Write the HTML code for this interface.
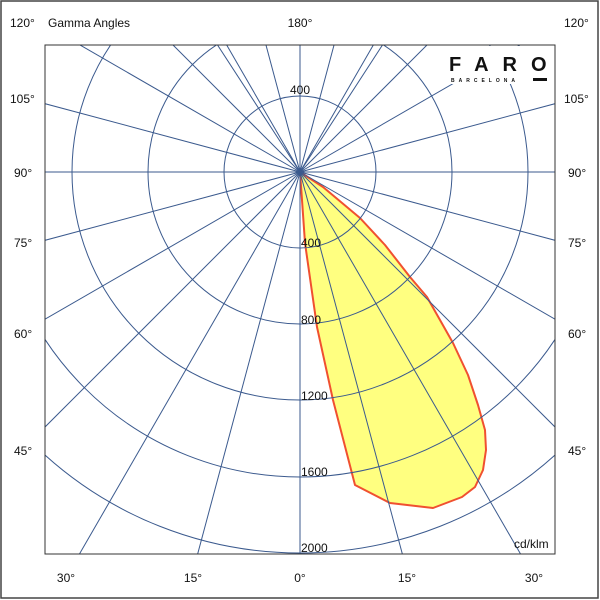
<!DOCTYPE html>
<html><head><style>
html,body{margin:0;padding:0;background:#fff;overflow:hidden;width:600px;height:600px;}
svg{display:block;overflow:hidden;}
svg text{font-family:"Liberation Sans",Arial,sans-serif;font-size:12px;fill:#111;}
</style></head><body>
<svg width="600" height="600" viewBox="0 0 600 600" xmlns="http://www.w3.org/2000/svg">
<rect x="1" y="1" width="597" height="597" fill="#fff" stroke="#444" stroke-width="1.5"/>
<defs><clipPath id="c"><rect x="45" y="45" width="510" height="509"/></clipPath></defs>
<g clip-path="url(#c)">
<polygon points="300,172 302,200 305,243 317,327 333,400 355,485 390,503 433,508 462,497 475,487 483,470 486,450 485,430 478,405 468,375 453,343 427,297 410,277 385,245 360,218 323,187" fill="#ffff80" stroke="#f05030" stroke-width="2" stroke-linejoin="round"/>
<g fill="none" stroke="#3b5a8e" stroke-width="1">
<circle cx="300" cy="172" r="76"/><circle cx="300" cy="172" r="152"/><circle cx="300" cy="172" r="228"/><circle cx="300" cy="172" r="305"/><circle cx="300" cy="172" r="381"/>
<line x1="300" y1="-300" x2="300" y2="700"/>
<line x1="-300" y1="172" x2="900" y2="172"/>
<line x1="300" y1="172" x2="300" y2="700" transform="rotate(15 300 172)"/>
<line x1="300" y1="172" x2="300" y2="700" transform="rotate(30 300 172)"/>
<line x1="300" y1="172" x2="300" y2="700" transform="rotate(45 300 172)"/>
<line x1="300" y1="172" x2="300" y2="700" transform="rotate(60 300 172)"/>
<line x1="300" y1="172" x2="300" y2="700" transform="rotate(75 300 172)"/>
<line x1="300" y1="172" x2="300" y2="700" transform="rotate(-15 300 172)"/>
<line x1="300" y1="172" x2="300" y2="700" transform="rotate(-30 300 172)"/>
<line x1="300" y1="172" x2="300" y2="700" transform="rotate(-45 300 172)"/>
<line x1="300" y1="172" x2="300" y2="700" transform="rotate(-60 300 172)"/>
<line x1="300" y1="172" x2="300" y2="700" transform="rotate(-75 300 172)"/>
<line x1="300" y1="172" x2="300" y2="700" transform="rotate(105 300 172)"/>
<line x1="300" y1="172" x2="300" y2="700" transform="rotate(120 300 172)"/>
<line x1="300" y1="172" x2="300" y2="700" transform="rotate(135 300 172)"/>
<line x1="300" y1="172" x2="300" y2="700" transform="rotate(150 300 172)"/>
<line x1="300" y1="172" x2="300" y2="700" transform="rotate(165 300 172)"/>
<line x1="300" y1="172" x2="300" y2="700" transform="rotate(-105 300 172)"/>
<line x1="300" y1="172" x2="300" y2="700" transform="rotate(-120 300 172)"/>
<line x1="300" y1="172" x2="300" y2="700" transform="rotate(-135 300 172)"/>
<line x1="300" y1="172" x2="300" y2="700" transform="rotate(-150 300 172)"/>
<line x1="300" y1="172" x2="300" y2="700" transform="rotate(-165 300 172)"/>
<line x1="300" y1="172" x2="300" y2="700" transform="rotate(147 300 172)"/>
<line x1="300" y1="172" x2="300" y2="700" transform="rotate(-147 300 172)"/>
</g>
</g>
<rect x="45" y="45" width="510" height="509" fill="none" stroke="#333" stroke-width="1"/>
<rect x="440" y="46" width="114" height="38" fill="#fff"/>
<text x="449" y="71" style="font-size:20px;font-weight:bold;letter-spacing:14px">FARO</text>
<text x="451" y="82" style="font-size:5px;font-weight:bold;letter-spacing:4px">BARCELONA</text>
<rect x="533" y="78" width="14" height="3" fill="#111"/>
<text x="300" y="94" text-anchor="middle">400</text>
<text x="301" y="247">400</text><text x="301" y="324">800</text><text x="301" y="400">1200</text><text x="301" y="476">1600</text><text x="301" y="552">2000</text>
<text x="514" y="548">cd/klm</text>
<text x="10" y="27">120°</text><text x="48" y="27">Gamma Angles</text>
<text x="300" y="27" text-anchor="middle">180°</text><text x="564" y="27">120°</text>
<text x="10" y="103">105°</text><text x="564" y="103">105°</text>
<text x="14" y="177">90°</text><text x="568" y="177">90°</text>
<text x="14" y="247">75°</text><text x="568" y="247">75°</text>
<text x="14" y="338">60°</text><text x="568" y="338">60°</text>
<text x="14" y="455">45°</text><text x="568" y="455">45°</text>
<text x="66" y="582" text-anchor="middle">30°</text><text x="193" y="582" text-anchor="middle">15°</text>
<text x="300" y="582" text-anchor="middle">0°</text><text x="407" y="582" text-anchor="middle">15°</text>
<text x="534" y="582" text-anchor="middle">30°</text>
</svg>
</body></html>
